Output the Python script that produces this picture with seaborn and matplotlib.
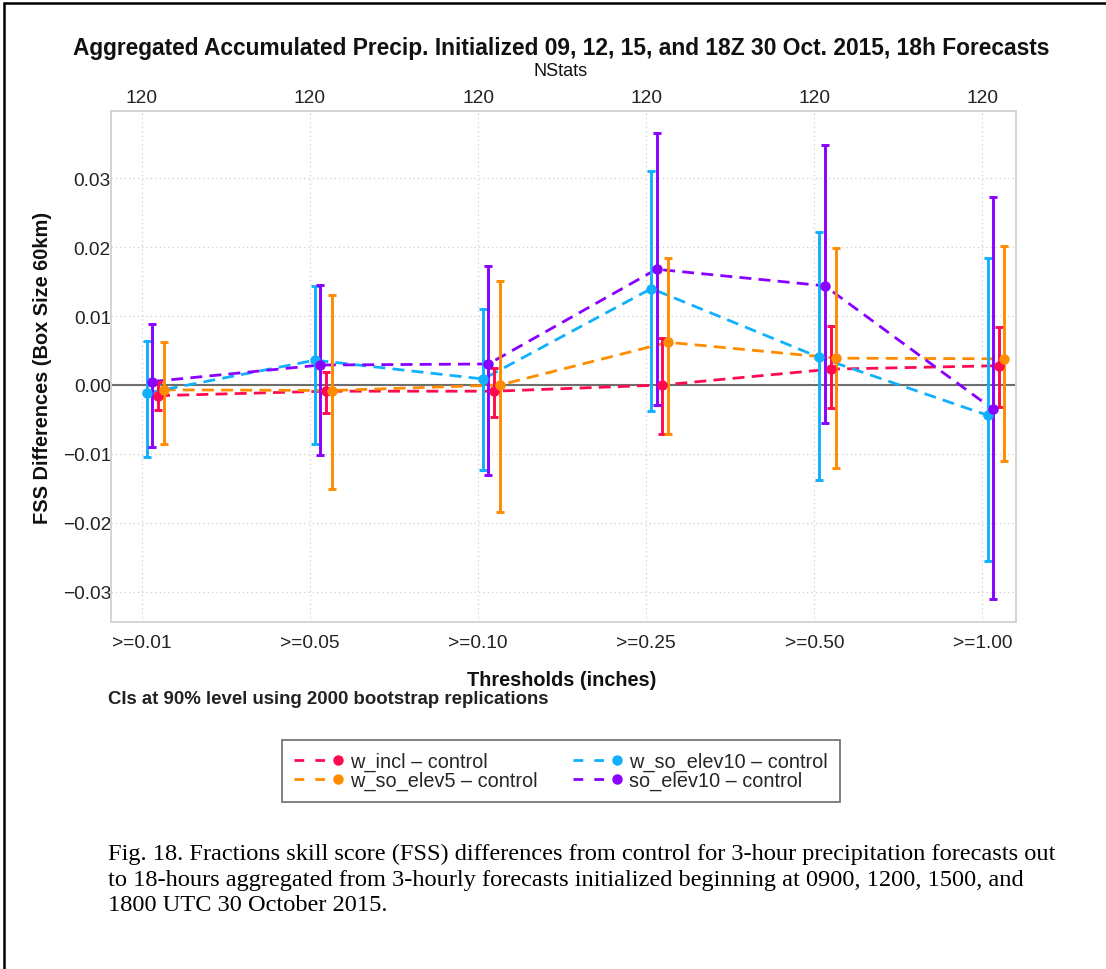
import numpy as np
import pandas as pd
import matplotlib
matplotlib.use("Agg")
import matplotlib.pyplot as plt
import seaborn as sns
from matplotlib.lines import Line2D
from matplotlib.legend_handler import HandlerBase

# ---------------- data ----------------
thresholds = [">=0.01", ">=0.05", ">=0.10", ">=0.25", ">=0.50", ">=1.00"]
nstats = [120, 120, 120, 120, 120, 120]
series_names = ["w_incl \u2013 control", "w_so_elev5 \u2013 control",
                "w_so_elev10 \u2013 control", "so_elev10 \u2013 control"]

w_incl_val = [-0.00155, -0.0009, -0.0009, 0.0, 0.0023, 0.0028]
w_incl_lo = [-0.0037, -0.0040, -0.0047, -0.0071, -0.0034, -0.0032]
w_incl_hi = [0.0005, 0.0019, 0.0024, 0.0068, 0.0085, 0.0084]

w_so_elev5_val = [-0.0007, -0.0008, 0.0, 0.0062, 0.0039, 0.0038]
w_so_elev5_lo = [-0.0085, -0.0151, -0.0185, -0.0071, -0.0121, -0.0111]
w_so_elev5_hi = [0.0063, 0.0130, 0.0151, 0.0184, 0.0199, 0.0202]

w_so_elev10_val = [-0.00116, 0.0036, 0.00087, 0.0140, 0.0040, -0.0044]
w_so_elev10_lo = [-0.0104, -0.0086, -0.0123, -0.0038, -0.0138, -0.0256]
w_so_elev10_hi = [0.0064, 0.0143, 0.0110, 0.0310, 0.0222, 0.0185]

so_elev10_val = [0.0005, 0.0029, 0.00305, 0.0168, 0.0144, -0.0035]
so_elev10_lo = [-0.0090, -0.0102, -0.0130, -0.0029, -0.0055, -0.0311]
so_elev10_hi = [0.0088, 0.0145, 0.0172, 0.0366, 0.0349, 0.0273]

# ---------------- styling ----------------
colors = ["#ff0a50", "#ff8c00", "#10b0ff", "#8a00ff"]
offsets = [0.097, 0.130, 0.031, 0.062]

sns.set_theme(style="white")
plt.rcParams["font.family"] = ["Liberation Sans", "DejaVu Sans"]

W, H = 1106, 970
fig = plt.figure(figsize=(W / 100, H / 100), dpi=100)
fig.patch.set_facecolor("white")

def fx(px):
    return px / W

def fy(py):
    return 1 - py / H

ax_l, ax_r, ax_t, ax_b = 111, 1016, 112, 623
ax = fig.add_axes([fx(ax_l), fy(ax_b), fx(ax_r - ax_l), (ax_b - ax_t) / H])

vals = [w_incl_val, w_so_elev5_val, w_so_elev10_val, so_elev10_val]
los = [w_incl_lo, w_so_elev5_lo, w_so_elev10_lo, so_elev10_lo]
his = [w_incl_hi, w_so_elev5_hi, w_so_elev10_hi, so_elev10_hi]

rows = []
base = np.arange(1, len(thresholds) + 1)
for name, v, lo, hi, off in zip(series_names, vals, los, his, offsets):
    for i, t in enumerate(thresholds):
        rows.append(dict(series=name, threshold=t, x=base[i] + off,
                         val=v[i], lo=lo[i], hi=hi[i]))
df = pd.DataFrame(rows)

ax.axhline(0, color="#6e6e6e", lw=1.5, zorder=1)

palette = dict(zip(series_names, colors))
sns.lineplot(data=df, x="x", y="val", hue="series", palette=palette,
             hue_order=series_names, ax=ax, legend=False, sort=False,
             linewidth=2.0, estimator=None, zorder=3)
for line in ax.lines[1:]:
    line.set_dashes([4.3, 2.6])

for name, c in zip(series_names, colors):
    d = df[df.series == name]
    yerr = np.vstack([d.val - d.lo, d.hi - d.val])
    ax.errorbar(d.x, d.val, yerr=yerr, fmt="o", color=c, ms=6.5,
                elinewidth=2.1, capsize=3.0, capthick=2.1, zorder=4)

ax.set_xlim(0.817, 6.2)
ax.set_ylim(-0.0344, 0.03977)
ax.set_xticks(base)
ax.set_xticklabels(thresholds)
ax.set_yticks([-0.03, -0.02, -0.01, 0.0, 0.01, 0.02, 0.03])
ax.set_yticklabels(["\u22120.03", "\u22120.02", "\u22120.01", "0.00", "0.01", "0.02", "0.03"])
ax.tick_params(axis="both", length=0, labelsize=13.8, colors="#222222")
ax.tick_params(axis="x", pad=9)
ax.tick_params(axis="y", pad=0)
ax.grid(True, color="#cfcfcf", linestyle=(0, (1, 2.5)), linewidth=0.9)
ax.set_axisbelow(True)
for s in ax.spines.values():
    s.set_color("#d4d4d4")
    s.set_linewidth(1.4)
ax.set_xlabel("")
ax.set_ylabel("FSS Differences (Box Size 60km)", fontsize=14.4,
              fontweight="bold", labelpad=8, color="#111111")

top = ax.secondary_xaxis("top")
top.set_xticks(base)
top.set_xticklabels([str(n) for n in nstats])
top.tick_params(length=0, labelsize=13.8, pad=3.5, colors="#222222")
top.spines["top"].set_visible(False)

# Texts
fig.text(fx(561), fy(48), "Aggregated Accumulated Precip. Initialized 09, 12, 15, and 18Z 30 Oct. 2015, 18h Forecasts",
         ha="center", va="center", fontsize=16.4, fontweight="bold", color="#111111")
fig.text(fx(561), fy(72), "NStats", ha="center", va="center", fontsize=13, color="#111111")
fig.text(fx(562), fy(681), "Thresholds (inches)", ha="center", va="center",
         fontsize=14.3, fontweight="bold", color="#111111")
fig.text(fx(108), fy(700), "CIs at 90% level using 2000 bootstrap replications",
         ha="left", va="center", fontsize=13.4, fontweight="bold", color="#222222")

# Legend with dashed line + dot at the right end
class RightDot(HandlerBase):
    def create_artists(self, legend, orig, xdescent, ydescent, width, height, fontsize, trans):
        y = height / 2 - ydescent
        c = orig.get_color()
        l = Line2D([-xdescent, width - xdescent], [y, y], color=c, lw=2.0,
                   dashes=[3.5, 4.0])
        m = Line2D([width - xdescent], [y], color=c, marker="o", ms=6.5, ls="none")
        l.set_transform(trans)
        m.set_transform(trans)
        return [l, m]

handles = [Line2D([], [], color=c) for c in colors]
leg = fig.legend(handles, series_names, loc="center", ncol=2,
                 bbox_to_anchor=(fx(561), fy(772)), frameon=True, fancybox=False,
                 fontsize=14.3, handlelength=2.2, handletextpad=0.6, columnspacing=1.8,
                 labelspacing=0.0, borderpad=0.6, borderaxespad=0,
                 handler_map={Line2D: RightDot()})
leg.get_frame().set_edgecolor("#555555")
leg.get_frame().set_linewidth(1.3)

caption = ("Fig. 18. Fractions skill score (FSS) differences from control for 3-hour precipitation forecasts out\n"
           "to 18-hours aggregated from 3-hourly forecasts initialized beginning at 0900, 1200, 1500, and\n"
           "1800 UTC 30 October 2015.")
fig.text(fx(108), fy(844), caption, ha="left", va="top", fontsize=17.6,
         family="Liberation Serif", color="black", linespacing=1.28)

# outer frame lines (top and left)
fig.add_artist(Line2D([fx(4), 1], [fy(4), fy(4)], transform=fig.transFigure, color="black", lw=1.8))
fig.add_artist(Line2D([fx(4), fx(4)], [0, fy(4)], transform=fig.transFigure, color="black", lw=1.8))

fig.savefig("out.png", dpi=100, facecolor="white")
